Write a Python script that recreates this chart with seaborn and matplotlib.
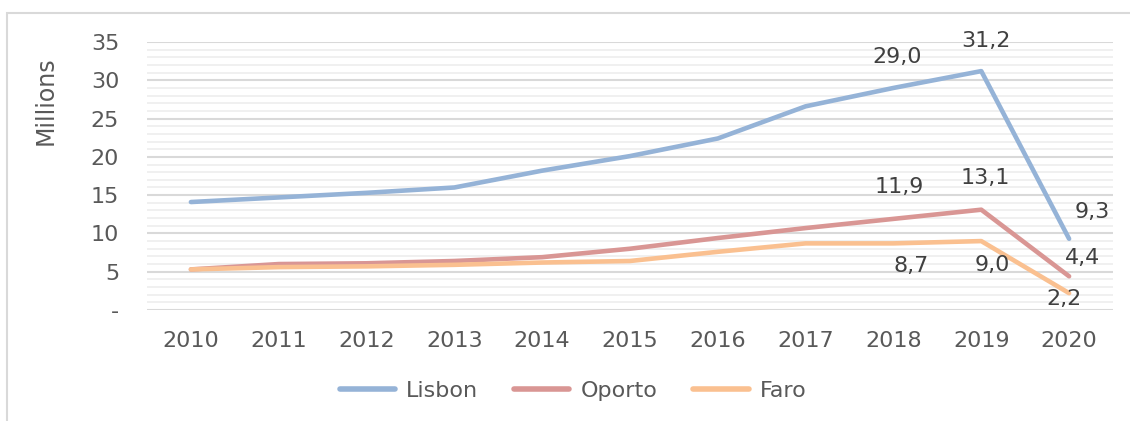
import numpy as np
import pandas as pd
import matplotlib
matplotlib.use("Agg")
import matplotlib.pyplot as plt
from matplotlib.patches import Rectangle
from matplotlib.ticker import MultipleLocator
import seaborn as sns

# --- data (millions of passengers) ---
years = [2010, 2011, 2012, 2013, 2014, 2015, 2016, 2017, 2018, 2019, 2020]
lisbon = [14.1, 14.7, 15.3, 16.0, 18.2, 20.1, 22.4, 26.6, 29.0, 31.2, 9.3]
oporto = [5.3, 6.0, 6.1, 6.4, 6.9, 8.0, 9.4, 10.7, 11.9, 13.1, 4.4]
faro = [5.3, 5.6, 5.7, 5.9, 6.2, 6.4, 7.6, 8.7, 8.7, 9.0, 2.2]

series_names = ["Lisbon", "Oporto", "Faro"]
series_colors = ["#95B3D7", "#D99694", "#FAC090"]

# which points carry a value label, and where (offset in points)
label_years = [2018, 2019, 2020]
label_offsets = {
    "Lisbon": [(3, 22), (3, 22), (17, 19)],
    "Oporto": [(4, 23), (3, 23), (10, 13)],
    "Faro":   [(13, -16), (8, -17), (-4, -4)],
}

df = pd.DataFrame({
    "year": [str(y) for y in years] * 3,
    "value": lisbon + oporto + faro,
    "city": np.repeat(series_names, len(years)),
})

sns.set_theme(style="white")
plt.rcParams["font.family"] = ["DejaVu Sans"]
text_col = "#595959"
fs = 16

fig = plt.figure(figsize=(11.3, 4.21), dpi=100)
ax = fig.add_axes([147 / 1130, 1 - 310 / 421, 966 / 1130, 268 / 421])

sns.lineplot(data=df, x="year", y="value", hue="city", hue_order=series_names,
             palette=series_colors, linewidth=3.3, sort=False, ax=ax,
             solid_capstyle="round", legend=True)

# gridlines: light minor every 1, darker major every 5
ax.set_ylim(0, 35)
ax.set_xlim(-0.5, len(years) - 0.5)
ax.yaxis.set_major_locator(MultipleLocator(5))
ax.yaxis.set_minor_locator(MultipleLocator(1))
ax.grid(axis="y", which="minor", color="#EEEEEE", linewidth=1.2)
ax.grid(axis="y", which="major", color="#D9D9D9", linewidth=1.5)
ax.set_axisbelow(True)
for s in ax.spines.values():
    s.set_visible(False)

ax.tick_params(axis="both", which="both", length=0, labelsize=fs,
               labelcolor=text_col)
ax.tick_params(axis="x", pad=15)
ax.tick_params(axis="y", pad=20)
ax.set_yticks(range(0, 36, 5))
ax.set_yticklabels(["-"] + [str(v) for v in range(5, 36, 5)])

ax.set_xlabel("")
ax.set_ylabel("Millions", fontsize=fs + 1, color=text_col)
ax.yaxis.set_label_coords(-0.093, 0.78)

# value labels with comma decimals
values = {"Lisbon": lisbon, "Oporto": oporto, "Faro": faro}
for name in series_names:
    for yr, off in zip(label_years, label_offsets[name]):
        i = years.index(yr)
        v = values[name][i]
        ax.annotate(f"{v:.1f}".replace(".", ","), xy=(i, v), xytext=off,
                    textcoords="offset points", ha="center", va="center",
                    fontsize=fs, color="#404040")

# legend at the bottom
handles, labels = ax.get_legend_handles_labels()
ax.legend(handles, labels, loc="center", bbox_to_anchor=(573 / 1130, 1 - 391 / 421),
          bbox_transform=fig.transFigure, ncol=3, frameon=False, fontsize=fs,
          handlelength=2.5, columnspacing=1.6, handletextpad=0.5,
          labelcolor=text_col)
for lh in ax.get_legend().get_lines():
    lh.set_linewidth(4)

# outer chart frame (only top and left visible in the crop)
fig.patches.append(Rectangle((7 / 1130, -0.1), 1.2, 1.1 - 13 / 421,
                             transform=fig.transFigure, fill=False,
                             edgecolor="#D9D9D9", linewidth=1.5))

fig.savefig("out.png", dpi=100)
